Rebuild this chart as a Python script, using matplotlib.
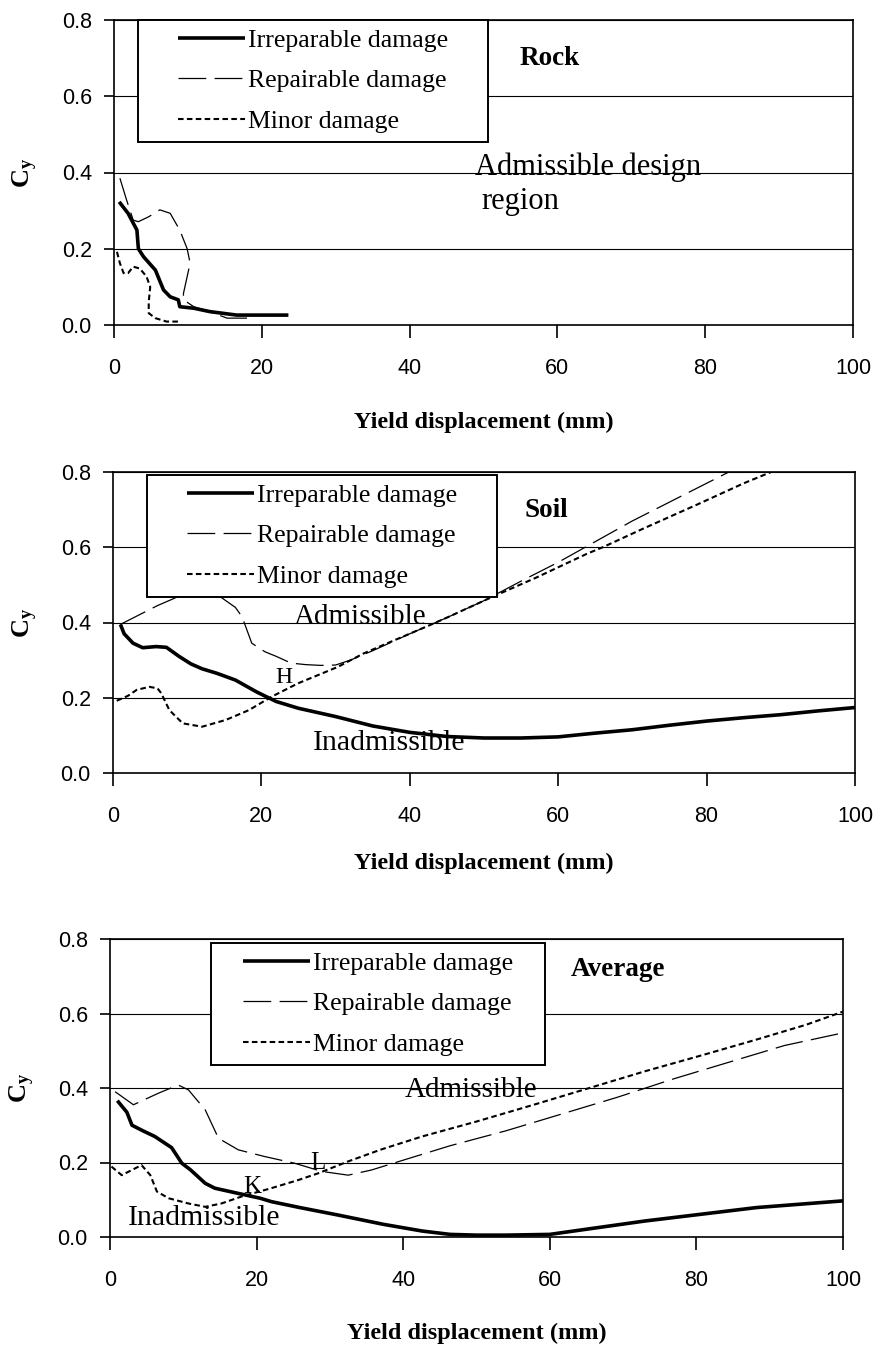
import matplotlib
matplotlib.use("Agg")
import matplotlib.pyplot as plt
from matplotlib.patches import Rectangle

# ---------------- data ----------------
# Rock
rock_irr_x = [0.7, 1.9, 3.1, 3.3, 4.0, 5.6, 6.7, 7.6, 8.7, 8.9, 10.8, 13.0, 14.6, 16.6, 23.6]
rock_irr_y = [0.323, 0.293, 0.249, 0.200, 0.179, 0.144, 0.092, 0.074, 0.066, 0.048, 0.044, 0.035, 0.031, 0.026, 0.026]
rock_rep_x = [0.8, 1.7, 2.6, 3.3, 4.7, 6.2, 7.6, 8.9, 9.9, 10.3, 9.9, 9.4, 9.4, 10.8, 13.5, 15.3, 18.0]
rock_rep_y = [0.385, 0.328, 0.275, 0.271, 0.284, 0.302, 0.293, 0.249, 0.200, 0.162, 0.127, 0.083, 0.066, 0.048, 0.031, 0.018, 0.018]
rock_min_x = [0.4, 0.8, 1.3, 1.9, 2.6, 3.5, 4.4, 4.9, 4.7, 4.7, 5.6, 7.1, 8.7]
rock_min_y = [0.192, 0.162, 0.136, 0.136, 0.153, 0.148, 0.127, 0.100, 0.061, 0.031, 0.018, 0.009, 0.009]

# Soil
soil_irr_x = [1, 1.5, 2.7, 4, 5.8, 7.2, 8.9, 10.5, 12, 14, 16.5, 19.4, 22, 25, 30, 35, 40, 45, 50, 55,
              60, 65, 70, 75, 80, 85, 90, 95, 100]
soil_irr_y = [0.395, 0.370, 0.345, 0.333, 0.336, 0.334, 0.310, 0.290, 0.277, 0.265, 0.247, 0.215, 0.190,
              0.172, 0.150, 0.125, 0.108, 0.097, 0.093, 0.093, 0.096, 0.106, 0.115, 0.127, 0.138, 0.147,
              0.155, 0.165, 0.174]
soil_rep_x = [1, 2, 4, 6, 8, 10, 12, 14, 15.2, 16.5, 17.4, 18.7, 20.5, 22, 24, 26, 28, 30, 32, 35, 40,
              45, 50, 55, 60, 65, 70, 75, 80, 83]
soil_rep_y = [0.395, 0.405, 0.425, 0.445, 0.462, 0.480, 0.490, 0.475, 0.458, 0.440, 0.415, 0.345, 0.322,
              0.310, 0.292, 0.288, 0.286, 0.287, 0.300, 0.325, 0.370, 0.413, 0.458, 0.510, 0.560, 0.615,
              0.670, 0.720, 0.770, 0.800]
soil_min_x = [0.5, 2, 3.2, 4.9, 6, 6.5, 7.6, 9.4, 12, 15.2, 18.3, 21.4, 24.9, 30.3, 33.8, 38.3, 42.7, 45,
              51, 57, 63.8, 66, 71.4, 78.9, 85, 88.7]
soil_min_y = [0.192, 0.205, 0.221, 0.229, 0.225, 0.212, 0.167, 0.132, 0.123, 0.141, 0.167, 0.203, 0.238,
              0.282, 0.318, 0.356, 0.393, 0.413, 0.467, 0.519, 0.582, 0.600, 0.649, 0.715, 0.770, 0.800]

# Average
avg_irr_x = [1, 2.3, 3, 4.5, 6.1, 8.4, 9.8, 11, 13, 14.3, 17.5, 20.5, 22, 25.9, 31.1, 37.3, 42.6, 46.4,
             50, 54, 60, 65.4, 73, 80.6, 88.2, 100]
avg_irr_y = [0.366, 0.335, 0.300, 0.285, 0.270, 0.240, 0.198, 0.180, 0.144, 0.131, 0.117, 0.104, 0.095,
             0.079, 0.059, 0.034, 0.016, 0.007, 0.005, 0.005, 0.007, 0.022, 0.043, 0.061, 0.079, 0.097]
avg_rep_x = [0.7, 3.2, 6.6, 9.3, 10.7, 13, 14.8, 17.5, 21.1, 25.2, 28.9, 32.5, 35.7, 39.3, 46.4, 54,
             61.6, 69.2, 76.8, 84.4, 92, 100]
avg_rep_y = [0.390, 0.355, 0.386, 0.408, 0.395, 0.341, 0.265, 0.234, 0.216, 0.198, 0.176, 0.166, 0.180,
             0.202, 0.245, 0.285, 0.330, 0.375, 0.424, 0.469, 0.514, 0.548]
avg_min_x = [0.2, 1.6, 3, 4.3, 5.5, 6.4, 8, 10.7, 13, 15.2, 18, 22, 25.7, 28.4, 32.5, 37, 42.6, 50,
             57.8, 65.4, 73, 80.6, 88.2, 95, 100]
avg_min_y = [0.189, 0.166, 0.180, 0.193, 0.166, 0.122, 0.104, 0.090, 0.081, 0.090, 0.109, 0.131, 0.153,
             0.171, 0.203, 0.235, 0.270, 0.310, 0.355, 0.400, 0.445, 0.487, 0.530, 0.570, 0.605]

series_labels = ["Irreparable damage", "Repairable damage", "Minor damage"]
x_ticks = [0, 20, 40, 60, 80, 100]
y_ticks = [0.0, 0.2, 0.4, 0.6, 0.8]
x_label = "Yield displacement (mm)"
y_label = r"$\mathbf{C}_{\mathbf{y}}$"

# ---------------- style ----------------
plt.rcParams["lines.scale_dashes"] = False
plt.rcParams["mathtext.fontset"] = "custom"
plt.rcParams["mathtext.rm"] = "Liberation Serif"
plt.rcParams["mathtext.bf"] = "Liberation Serif:bold"
plt.rcParams["mathtext.it"] = "Liberation Serif:italic"

SERIF = ["Liberation Serif", "DejaVu Serif"]
SANS = ["Liberation Sans", "DejaVu Sans"]

FIG_W, FIG_H = 877, 1345
fig = plt.figure(figsize=(FIG_W / 100, FIG_H / 100), dpi=100)

# axes boxes in pixels: left, right, top, bottom
boxes = [(114, 853, 20, 325), (113, 855, 472, 773), (110, 843, 939, 1237)]

irr_style = dict(color="black", lw=2.6, solid_capstyle="butt")
rep_style = dict(color="black", lw=0.9, dashes=(20, 6))
min_style = dict(color="black", lw=1.5, dashes=(4, 2.4))


def make_axes(box):
    l, r, t, b = box
    ax = fig.add_axes([l / FIG_W, 1 - b / FIG_H, (r - l) / FIG_W, (b - t) / FIG_H])
    ax.set_xlim(0, 100)
    ax.set_ylim(0, 0.8)
    ax.set_xticks(x_ticks)
    ax.set_yticks(y_ticks)
    ax.set_xticklabels([f"{v:d}" for v in x_ticks], family=SANS, fontsize=15.5)
    ax.set_yticklabels([f"{v:.1f}" for v in y_ticks], family=SANS, fontsize=15.5)
    ax.tick_params(axis="x", direction="out", length=9, width=1.2, pad=15)
    ax.tick_params(axis="y", direction="out", length=7, width=1.2, pad=9)
    ax.yaxis.grid(True, color="black", lw=0.8)
    ax.set_axisbelow(True)
    for s in ax.spines.values():
        s.set_linewidth(1.2)
    ax.set_xlabel(x_label, family=SERIF, fontweight="bold", fontsize=17.5)
    ax.set_ylabel(y_label, fontsize=19)
    return ax


def px_to_axes(box, px, py):
    l, r, t, b = box
    return (px - l) / (r - l), (b - py) / (b - t)


panels = [
    (rock_irr_x, rock_irr_y, rock_rep_x, rock_rep_y, rock_min_x, rock_min_y),
    (soil_irr_x, soil_irr_y, soil_rep_x, soil_rep_y, soil_min_x, soil_min_y),
    (avg_irr_x, avg_irr_y, avg_rep_x, avg_rep_y, avg_min_x, avg_min_y),
]
# legend: handle-left px, frame-top px, horizontal padding px
legend_pos = [(178, 20, 40), (187, 475, 40), (243, 943, 32)]
xlabel_top = [412, 853, 1323]
ylabel_right = [40, 40, 37]

axes = []
legends = []
for i, (box, data) in enumerate(zip(boxes, panels)):
    ax = make_axes(box)
    ix, iy, rx, ry, mx, my = data
    h1, = ax.plot(ix, iy, **irr_style)
    h2, = ax.plot(rx, ry, **rep_style)
    h3, = ax.plot(mx, my, **min_style)
    l, r, t, b = box
    ax.xaxis.set_label_coords(0.5, -(xlabel_top[i] - b) / (b - t))
    ax.yaxis.set_label_coords((ylabel_right[i] - l) / (r - l), 0.5)

    hx, ftop, padx = legend_pos[i]
    pady = 9
    ax_x, ax_y = px_to_axes(box, hx, ftop + pady)
    leg = ax.legend([h1, h2, h3], series_labels, loc="upper left", bbox_to_anchor=(ax_x, ax_y),
                    frameon=False, borderpad=0, borderaxespad=0, handlelength=2.6,
                    handletextpad=0.12, labelspacing=0.68,
                    prop=dict(family=SERIF, size=18.5))
    leg.set_zorder(6)
    axes.append(ax)
    legends.append((leg, padx, pady))

# panel annotations
ax1, ax2, ax3 = axes
ax1.text(58.9, 0.700, "Rock", family=SERIF, fontweight="bold", fontsize=19.5, ha="center", va="center")
ax1.text(48.8, 0.414, "Admissible design", family=SERIF, fontsize=22, ha="left", va="center")
ax1.text(49.7, 0.323, "region", family=SERIF, fontsize=22, ha="left", va="center")

ax2.text(58.4, 0.699, "Soil", family=SERIF, fontweight="bold", fontsize=19.5, ha="center", va="center")
ax2.text(24.3, 0.415, "Admissible", family=SERIF, fontsize=21, ha="left", va="center")
ax2.text(23.0, 0.255, "H", family=SERIF, fontsize=17, ha="center", va="center")
ax2.text(27.0, 0.080, "Inadmissible", family=SERIF, fontsize=21.5, ha="left", va="center")

ax3.text(62.8, 0.717, "Average", family=SERIF, fontweight="bold", fontsize=19.5, ha="left", va="center")
ax3.text(40.2, 0.395, "Admissible", family=SERIF, fontsize=21, ha="left", va="center")
ax3.text(28.4, 0.199, "L", family=SERIF, fontsize=18, ha="center", va="center")
ax3.text(19.4, 0.134, "K", family=SERIF, fontsize=18, ha="center", va="center")
ax3.text(2.5, 0.051, "Inadmissible", family=SERIF, fontsize=21.5, ha="left", va="center")

# white framed box behind each legend, sized from the rendered legend
fig.canvas.draw()
renderer = fig.canvas.get_renderer()
for ax, (leg, padx, pady) in zip(axes, legends):
    bb = leg.get_window_extent(renderer)
    x0, y0 = bb.x0 - padx, bb.y0 - pady
    x1, y1 = bb.x1 + padx, bb.y1 + pady
    inv = ax.transAxes.inverted()
    (ax0, ay0), (ax1_, ay1) = inv.transform([(x0, y0), (x1, y1)])
    ax.add_patch(Rectangle((ax0, ay0), ax1_ - ax0, ay1 - ay0, transform=ax.transAxes,
                           facecolor="white", edgecolor="black", lw=1.4, zorder=5.5, clip_on=False))

fig.savefig("out.png", dpi=100)
